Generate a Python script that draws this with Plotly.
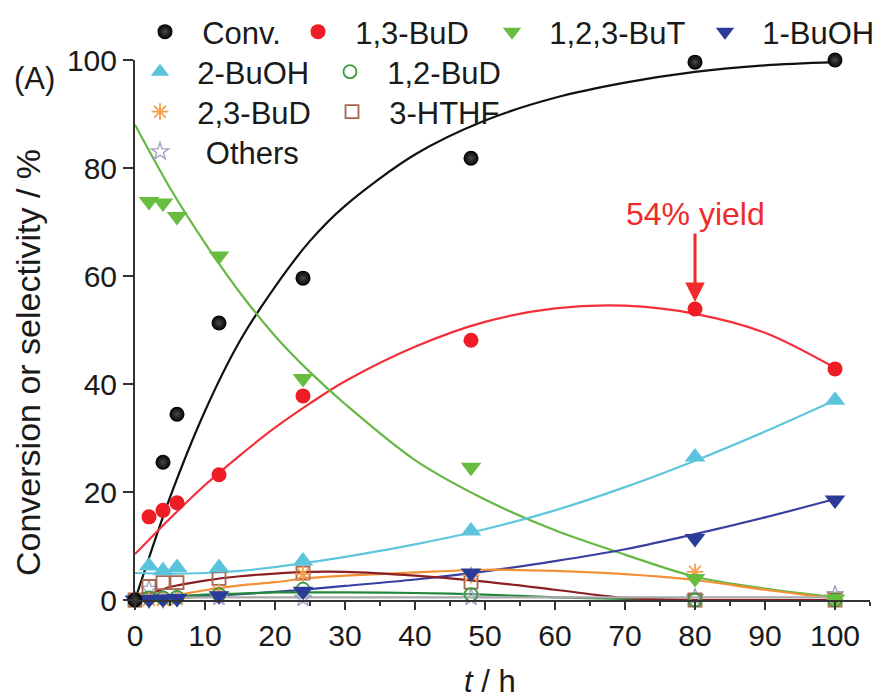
import plotly.graph_objects as go

# ---------------- data ----------------
t_pts = [0, 2, 4, 6, 12, 24, 48, 80, 100]
conv = [0, None, 25.5, 34.4, 51.3, 59.6, 81.8, 99.6, 100.0]
bud13 = [None, 15.4, 16.6, 18.0, 23.2, 37.8, 48.1, 53.9, 42.8]
but123 = [None, 73.8, 73.5, 71.0, 63.7, 41.0, 24.6, 4.0, 0.2]
buoh1 = [0, 0.1, 0.2, 0.3, 0.8, 1.6, 5.0, 11.4, 18.5]
buoh2 = [None, 6.3, 5.4, 6.0, 6.0, 7.2, 12.8, 26.5, 37.0]
bud12 = [0, 0.4, 0.4, 0.5, 1.0, 2.0, 1.0, 0.0, 0.0]
bud23 = [0, 0.0, 0.0, 0.3, 1.5, 4.8, 4.6, 5.2, 0.0]
hthf = [0, 2.5, 3.2, 3.2, 4.0, 5.0, 3.3, 0.0, 0.0]
others = [0, 2.0, 0.5, 0.5, 0.5, 0.3, 0.5, 0.5, 1.0]

# fitted curves, read at these times
t_fit = [0, 5, 10, 15, 20, 25, 30, 40, 50, 60, 70, 80, 90, 100]
conv_fit = [0, 19, 35, 48, 58, 66.5, 73, 82.5, 88.8, 93, 95.8, 97.8, 99, 99.6]
bud13_fit = [8.5, 15.1, 21.3, 26.8, 31.9, 36.4, 40.5, 46.9, 51.5, 54, 54.5, 53, 49.5, 43]
but123_fit = [88, 76.3, 66.1, 56.9, 48.9, 42.2, 36.3, 25.9, 18.6, 12.9, 8.4, 4.3, 2.1, 0.5]
buoh1_fit = [0, 0.3, 0.7, 1.1, 1.5, 2.0, 2.6, 3.8, 5.3, 7.2, 9.4, 12.2, 15.3, 18.7]
buoh2_fit = [5, 4.9, 5, 5.4, 6.1, 7, 8, 10.3, 13.1, 16.6, 20.9, 25.8, 31.2, 37]
bud12_fit = [0, 0.6, 1.0, 1.2, 1.4, 1.4, 1.4, 1.3, 1.0, 0.5, 0.2, 0, 0, 0]
bud23_fit = [0, 0.7, 1.8, 2.7, 3.3, 4.1, 4.5, 5.1, 5.6, 5.4, 4.8, 3.7, 1.9, 0.3]
hthf_fit = [0, 2.4, 3.6, 4.4, 4.9, 5.2, 5.2, 4.5, 3.4, 1.9, 0.4, 0, 0, 0]
others_fit = [0, 0.4, 0.5, 0.5, 0.5, 0.5, 0.5, 0.5, 0.5, 0.5, 0.5, 0.5, 0.5, 0.5]

x_ticks = [0, 10, 20, 30, 40, 50, 60, 70, 80, 90, 100]
y_ticks = [0, 20, 40, 60, 80, 100]

# ---------------- styling ----------------
FONT = "Liberation Sans, Arial, Helvetica, sans-serif"
NB = "\u00a0"

series = [
    ("Conv.", conv, conv_fit, "#111111",
     dict(symbol="circle", size=15, color="#000000",
          gradient=dict(type="radial", color="#4a4a4a")), "legend", 2),
    ("1,3-BuD", bud13, bud13_fit, "#f2303a",
     dict(symbol="circle", size=15, color="#ee1c25"), "legend2", 2),
    ("1,2,3-BuT", but123, but123_fit, "#66b845",
     dict(symbol="triangle-down", size=18, color="#67bd3f"), "legend3", 2),
    ("1-BuOH", buoh1, buoh1_fit, "#3840a0",
     dict(symbol="triangle-down", size=18, color="#2a3b9a"), "legend4", 2),
    ("2-BuOH", buoh2, buoh2_fit, "#5fc6de",
     dict(symbol="triangle-up", size=18, color="#5bc4dc"), "legend5", 2),
    ("1,2-BuD", bud12, bud12_fit, "#23883a",
     dict(symbol="circle-open", size=13, color="#3d9b40",
          line=dict(width=1.8)), "legend6", 2),
    ("2,3-BuD", bud23, bud23_fit, "#f39136",
     dict(symbol="asterisk-open", size=14, color="#f5a04c",
          line=dict(width=1.8, color="#f5a04c")), "legend7", 2),
    ("3-HTHF", hthf, hthf_fit, "#8b1e22",
     dict(symbol="square-open", size=13, color="#a8654f",
          line=dict(width=1.8)), "legend8", 2),
    ("Others", others, others_fit, "#a9a9a9",
     dict(symbol="star-open", size=13, color="#a3a3c4",
          line=dict(width=1.4)), "legend9", 3),
]

fig = go.Figure()

for name, pts, fit, lc, mk, lg, gap in series:
    fig.add_trace(go.Scatter(
        x=t_fit, y=fit, mode="lines",
        line=dict(color=lc, width=2.2, shape="spline", smoothing=0.9),
        showlegend=False, hoverinfo="skip", cliponaxis=False))

for name, pts, fit, lc, mk, lg, gap in reversed(series):
    fig.add_trace(go.Scatter(
        x=t_pts, y=pts, mode="markers", name=NB * gap + name,
        marker=mk, legend=lg, showlegend=True, cliponaxis=False))

# ---------------- layout ----------------
# the page puts the figure 8 px in from the top-left corner
OFF = 8
W, H = 883 - OFF, 698 - OFF
L, T = 135 - OFF, 60 - OFF
R = W - (870 - OFF)
B = H - (600 - OFF)
pw, ph = W - L - R, H - T - B


def px(xs):
    return (xs - OFF - L) / pw


def py(ys):
    return (T + ph - (ys - OFF)) / ph


legend_pos = {
    "legend": (165, 32), "legend2": (318, 32), "legend3": (512, 32),
    "legend4": (725, 32), "legend5": (160, 72), "legend6": (350, 72),
    "legend7": (160, 112), "legend8": (352, 112), "legend9": (160, 152),
}
legend_layouts = {}
for key, (mx, my) in legend_pos.items():
    legend_layouts[key] = dict(
        x=px(mx - 20), y=py(my), xanchor="left", yanchor="middle",
        bgcolor="rgba(0,0,0,0)", borderwidth=0,
        font=dict(family=FONT, size=31, color="#1a1a1a"),
        itemclick=False, itemdoubleclick=False)

fig.update_layout(
    width=W, height=H,
    margin=dict(l=L, r=R, t=T, b=B, pad=0, autoexpand=False),
    paper_bgcolor="white", plot_bgcolor="white",
    font=dict(family=FONT, size=30, color="#1a1a1a"),
    **legend_layouts,
)

fig.update_xaxes(
    range=[0, 105], tickvals=x_ticks, ticktext=[str(v) for v in x_ticks],
    showgrid=False, zeroline=False, showline=True, linecolor="#333333",
    linewidth=2, ticks="outside", ticklen=8, tickwidth=2, tickcolor="#333333",
    minor=dict(dtick=5, ticks="outside", ticklen=4, tickwidth=1.5,
               tickcolor="#333333", showgrid=False),
    tickfont=dict(family=FONT, size=30, color="#1a1a1a"),
)
fig.update_yaxes(
    range=[0, 100], tickvals=y_ticks, ticktext=[str(v) for v in y_ticks],
    showgrid=False, zeroline=False, showline=True, linecolor="#333333",
    linewidth=2, ticks="outside", ticklen=10, tickwidth=2, tickcolor="#333333",
    tickfont=dict(family=FONT, size=30, color="#1a1a1a"),
)

fig.add_annotation(
    text="Conversion or selectivity / %", textangle=-90,
    xref="paper", yref="paper", x=px(28), y=py(363),
    xanchor="center", yanchor="middle", showarrow=False,
    font=dict(family=FONT, size=34, color="#1a1a1a"))
fig.add_annotation(
    text="<i>t</i> / h", xref="paper", yref="paper", x=px(490), y=py(681),
    xanchor="center", yanchor="middle", showarrow=False,
    font=dict(family=FONT, size=31, color="#1a1a1a"))
fig.add_annotation(
    text="(A)", xref="paper", yref="paper", x=px(34), y=py(78),
    xanchor="center", yanchor="middle", showarrow=False,
    font=dict(family=FONT, size=31, color="#1a1a1a"))
fig.add_annotation(
    text="54% yield", x=80, y=bud13[7], xref="x", yref="y",
    ax=0, ay=-95, axref="pixel", ayref="pixel",
    showarrow=True, arrowhead=2, arrowsize=1.3, arrowwidth=3,
    arrowcolor="#ee2a2a", standoff=7,
    font=dict(family=FONT, size=32, color="#ee2a2a"))

fig.write_html("out.html")
